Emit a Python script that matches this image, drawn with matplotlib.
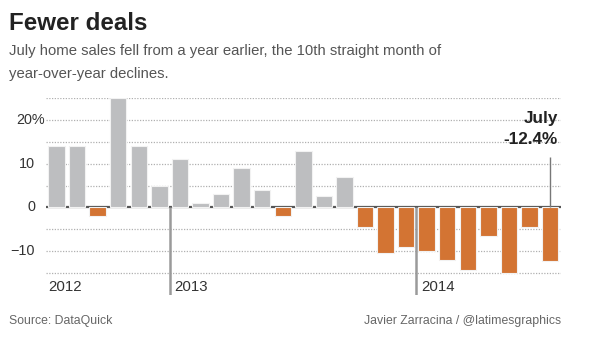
import matplotlib.pyplot as plt

plt.rcParams['font.family'] = ['Liberation Sans', 'DejaVu Sans']

# year-over-year change in home sales, July 2012 - July 2014
months = list(range(25))
change = [14, 14, -2, 25, 14, 5, 11, 1, 3, 9, 4, -2, 13, 2.7, 7,
          -4.4, -10.5, -9.2, -10, -12.1, -14.4, -6.6, -15.1, -4.4, -12.4]
year_labels = ['2012', '2013', '2014']
year_pos = [-0.5, 5.5, 17.5]
grid_levels = [-15, -10, -5, 0, 5, 10, 15, 20, 25]
tick_vals = [20, 10, 0, -10]
tick_text = ['20%', '10', '0', '\u221210']

gray = '#bdbec0'
orange = '#d37433'
colors = [gray if v >= 0 else orange for v in change]

fig = plt.figure(figsize=(6, 3.37), dpi=100)
ax = fig.add_axes([46/600, 1-295/337, 515/600, 196.7/337])
ax.set_xlim(-0.51, 24.53)
ax.set_ylim(-20.1, 25)
ax.axis('off')

for g in grid_levels:
    if g == 0:
        continue
    ax.axhline(g, color='#b0b0b0', lw=0.9, ls=(0, (1, 1.2)), zorder=0)
ax.axhline(0, color='#555555', lw=1.6, zorder=1)

ax.bar(months, change, width=0.8, color=colors, edgecolor='#f2f2f2', lw=0.8, zorder=2)

# year dividers
for p, lab in zip(year_pos, year_labels):
    if p > 0:
        ax.vlines(p, -20.1, 0, color='#9a9a9a', lw=1.8, zorder=3)
        ax.text(p + 0.22, -18.2, lab, fontsize=10.8, color='#333333', va='center', ha='left')
    else:
        ax.text(p + 0.1, -18.2, lab, fontsize=10.8, color='#333333', va='center', ha='left')

# y axis labels, numbers line up and the percent sign hangs out
unit = 25.04 / 515
for v, t in zip(tick_vals, tick_text):
    xpos = -0.51 - (1 if t.endswith('%') else 11) * unit
    ax.text(xpos, v, t, fontsize=10.4, color='#333333', va='center', ha='right')

# callout for the latest month
ax.vlines(months[-1], 0, 11.5, color='#777777', lw=1, zorder=3)
ax.text(24.38, 19.4, 'July', fontsize=12.3, fontweight='bold', color='#222222', ha='right', va='baseline')
ax.text(24.38, 14.5, '%.1f%%' % change[-1], fontsize=12.3, fontweight='bold', color='#222222',
        ha='right', va='baseline')

fig.text(9/600, 1-30/337, 'Fewer deals', fontsize=17.4, fontweight='bold', color='#222222', va='baseline')
fig.text(9/600, 1-55/337, 'July home sales fell from a year earlier, the 10th straight month of',
         fontsize=10.7, color='#555555', va='baseline')
fig.text(9/600, 1-78/337, 'year-over-year declines.', fontsize=10.7, color='#555555', va='baseline')
fig.text(9/600, 1-324/337, 'Source: DataQuick', fontsize=8.8, color='#666666', va='baseline')
fig.text(561/600, 1-324/337, 'Javier Zarracina / @latimesgraphics', fontsize=8.8, color='#666666',
         va='baseline', ha='right')

fig.savefig('out.png', dpi=100, facecolor='white')
